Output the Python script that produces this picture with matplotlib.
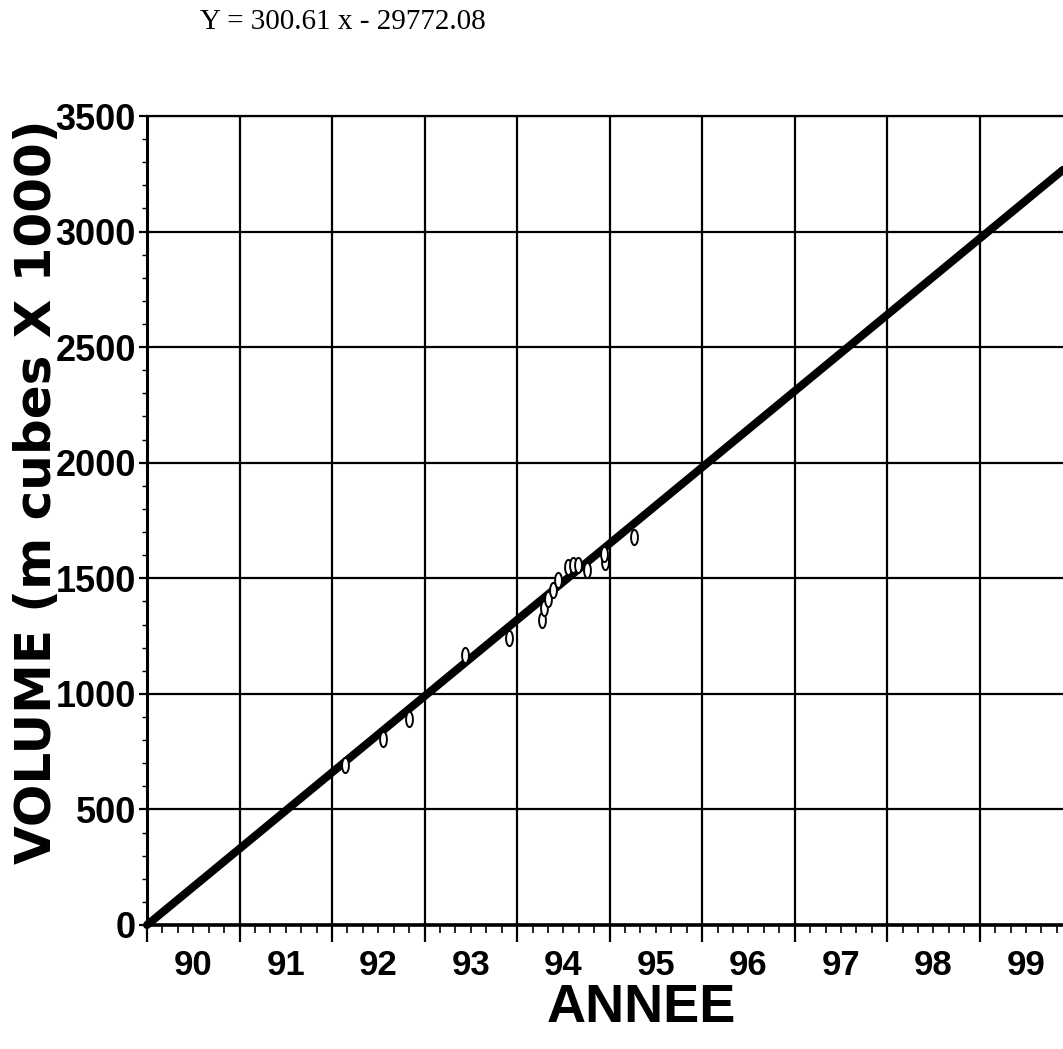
import numpy as np
import matplotlib
matplotlib.use("Agg")
import matplotlib.pyplot as plt
from matplotlib.path import Path
import matplotlib.transforms as mtransforms

# ---- data ----
equation_text = "Y = 300.61 x - 29772.08"
year_labels = ["90", "91", "92", "93", "94", "95", "96", "97", "98", "99"]
year_starts = [90, 91, 92, 93, 94, 95, 96, 97, 98, 99]
y_ticks = [0, 500, 1000, 1500, 2000, 2500, 3000, 3500]

# observed points (annee, volume)
obs_x = [92.14, 92.55, 92.83, 93.44, 93.91, 94.27, 94.29, 94.33, 94.39, 94.44,
         94.55, 94.60, 94.66, 94.76, 94.95, 94.94, 95.26]
obs_y = [691, 804, 890, 1167, 1240, 1320, 1370, 1410, 1448, 1491,
         1550, 1556, 1556, 1534, 1569, 1607, 1677]

# regression line (end points)
fit_x = [90.0, 99.9]
fit_y = [0.0, 3267.0]

W, H = 1063, 1049
fig = plt.figure(figsize=(W / 100, H / 100), dpi=100)
ax = fig.add_axes([147 / W, 1 - 925 / H, (W - 147) / W, (925 - 116) / H])

ax.set_xlim(90, 99.9)
ax.set_ylim(0, 3500)

# grid
ax.set_xticks(year_starts)
ax.set_xticklabels([])
ax.set_xticks(np.arange(90, 100, 1 / 6), minor=True)
ax.set_yticks(y_ticks)
ax.set_yticklabels([str(v) for v in y_ticks], fontsize=26, fontweight="bold",
                   family="Liberation Sans")
ax.set_yticks(np.arange(0, 3501, 100), minor=True)
ax.grid(True, which="major", color="black", linewidth=1.6)
ax.set_axisbelow(True)

ax.tick_params(axis="x", which="major", direction="out", length=12, width=1.6,
               color="black")
ax.tick_params(axis="x", which="minor", direction="out", length=6, width=1.2)
ax.tick_params(axis="y", which="major", direction="out", length=6, width=1.6,
               pad=2)
ax.tick_params(axis="y", which="minor", direction="out", length=3.5, width=1.0)

ax.spines["right"].set_visible(False)
ax.spines["left"].set_linewidth(2.2)
ax.spines["bottom"].set_linewidth(2.6)
ax.spines["top"].set_linewidth(1.6)

# year labels centred in each year interval
trans = mtransforms.blended_transform_factory(ax.transData, ax.transAxes)
for ys, lab in zip(year_starts, year_labels):
    ax.text(ys + 0.5, -0.050, lab, transform=trans, ha="center", va="center",
            fontsize=25, fontweight="bold", family="Liberation Sans")

# regression line
ax.plot(fit_x, fit_y, color="black", linewidth=5.8, solid_capstyle="round",
        zorder=3, clip_on=False)

# observed points: small hollow tall ovals
t = np.linspace(0, 2 * np.pi, 30)
oval = Path(np.column_stack([0.45 * np.cos(t), np.sin(t)]))
ax.scatter(obs_x, obs_y, marker=oval, s=120, facecolors="white",
           edgecolors="black", linewidths=1.4, zorder=4)

# texts
fig.text(200 / W, 1 - 22 / H, equation_text, fontsize=21,
         family="Liberation Serif", ha="left", va="center")
fig.text(37 / W, 1 - 492 / H, "VOLUME (m cubes X 1000)", rotation=90,
         fontsize=36, fontweight="bold", family="DejaVu Sans",
         ha="center", va="center")
fig.text(641 / W, 1 - 1022 / H, "ANNEE", fontsize=39, fontweight="bold",
         family="Liberation Sans", ha="center", va="baseline")

fig.savefig("out.png", dpi=100, facecolor="white")
